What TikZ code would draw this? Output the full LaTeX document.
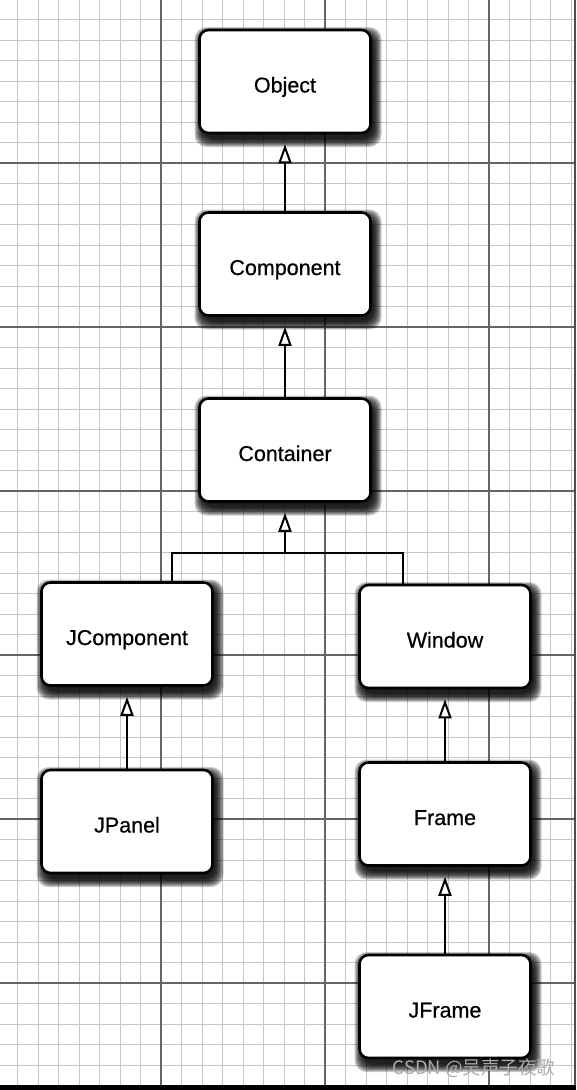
\documentclass[tikz,border=0pt]{standalone}
\usepackage{fontspec}
\setmainfont{Liberation Sans}
\newfontfamily\cjkfont{Noto Sans CJK SC}
\newfontfamily\boxfont[FakeBold=0.6]{Liberation Sans}
\usetikzlibrary{arrows.meta}
\newcommand\umlbox[4]{%
  \foreach \s in {0,...,8} {\fill[black,opacity=0.2,rounded corners=12pt] ({#2-85.5+3-\s},{#3-51.5+5-\s}) rectangle ({#2+85.5+3+\s},{#3+51.5+6+\s});}
  \node[box] (#1) at (#2,#3) {#4};}
\begin{document}
\begin{tikzpicture}[x=1pt,y=-1pt,
  box/.style={draw=black, line width=2.6pt, fill=white, rounded corners=9pt, minimum width=171pt, minimum height=103pt, inner sep=0pt, text height=22pt, text depth=0pt, font=\boxfont\fontsize{21.5}{25}\selectfont},
  conn/.style={line width=2.4pt, draw=black, line join=miter},
  inh/.style={conn, -{Triangle[width=13pt,length=19pt,fill=white,line width=2pt]}, shorten >=10pt},
  minorgrid/.style={gray!45, line width=0.9pt},
  majorgrid/.style={black!60, line width=1.8pt}]
\useasboundingbox (0,0) rectangle (576,1090);
\fill[white] (0,0) rectangle (576,1090);
% grid
\foreach \k in {-7,...,20} {\draw[minorgrid] ({161+20.5*\k},0) -- ({161+20.5*\k},1090);}
\foreach \k in {-7,...,45} {\draw[minorgrid] (0,{163+20.5*\k}) -- (576,{163+20.5*\k});}
\foreach \x in {161,325,489} {\draw[majorgrid] (\x,0) -- (\x,1090);}
\foreach \y in {163,327,491,655,819,983} {\draw[majorgrid] (0,\y) -- (576,\y);}
\fill[black!70] (574,0) rectangle (576,1090);
\fill[black] (0,1085) rectangle (576,1090);
% boxes
\umlbox{Object}{285}{81.5}{Object}
\umlbox{Component}{285}{264}{Component}
\umlbox{Container}{285}{450}{Container}
\umlbox{JComponent}{127}{634}{JComponent}
\umlbox{Window}{445}{636.5}{Window}
\umlbox{JPanel}{127}{821.5}{JPanel}
\umlbox{Frame}{445}{814}{Frame}
\umlbox{JFrame}{445}{1006.5}{JFrame}
% connectors
\draw[inh] (Component.north) -- (Object.south);
\draw[inh] (Container.north) -- (Component.south);
\coordinate (busC) at (285,553);
\coordinate (busL) at (172,553);
\coordinate (busR) at (403,553);
\draw[conn] (busL |- JComponent.north) -- (busL) -- (busR) -- (busR |- Window.north);
\draw[inh] (busC) -- (Container.south);
\draw[inh] (JPanel.north) -- (JComponent.south);
\draw[inh] (Frame.north) -- (Window.south);
\draw[inh] (JFrame.north) -- (Frame.south);
% watermark
\node[text=gray!65, font=\cjkfont\fontsize{18.5}{22}\selectfont] (wm) at (474,1068) {CSDN @吴声子夜歌};
\end{tikzpicture}
\end{document}
